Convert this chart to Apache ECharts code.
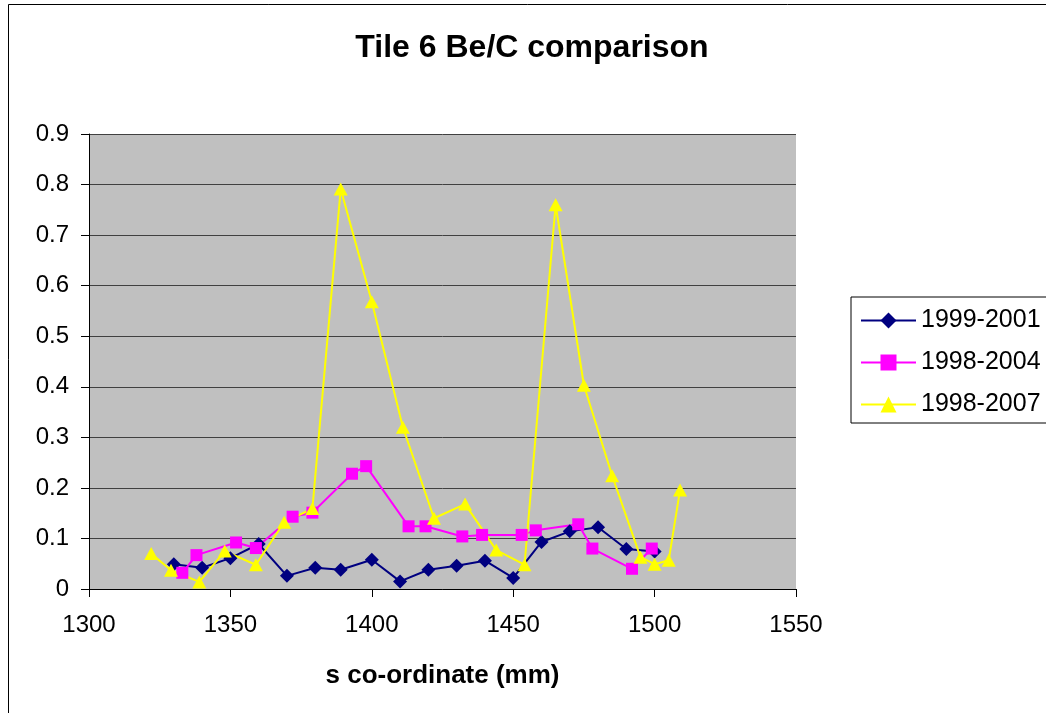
<!DOCTYPE html>
<html>
<head>
<meta charset="utf-8">
<title>Tile 6 Be/C comparison</title>
<script src="https://cdn.jsdelivr.net/npm/echarts@6/dist/echarts.min.js"></script>
<style>
  html, body { margin: 0; padding: 0; background: #fff; }
  #chart { width: 1046px; height: 713px; }
</style>
</head>
<body>
<div id="chart"></div>
<script>
// s co-ordinate (mm) and Be/C ratio, per campaign
const seriesNames = ['1999-2001', '1998-2004', '1998-2007'];

const s1999_2001 = [1330, 1340, 1350, 1360, 1370, 1380, 1389, 1400, 1410, 1420, 1430, 1440, 1450, 1460, 1470, 1480, 1490, 1500];
const be1999_2001 = [0.049, 0.042, 0.061, 0.089, 0.026, 0.042, 0.038, 0.058, 0.015, 0.038, 0.046, 0.056, 0.022, 0.093, 0.114, 0.122, 0.079, 0.074];

const s1998_2004 = [1333, 1338, 1352, 1359, 1372, 1379, 1393, 1398, 1413, 1419, 1432, 1439, 1453, 1458, 1473, 1478, 1492, 1499];
const be1998_2004 = [0.032, 0.067, 0.092, 0.081, 0.143, 0.151, 0.228, 0.243, 0.124, 0.124, 0.104, 0.107, 0.107, 0.116, 0.128, 0.080, 0.040, 0.080];

const s1998_2007 = [1322, 1329, 1339, 1348, 1359, 1369, 1379, 1389, 1400, 1411, 1422, 1433, 1444, 1454, 1465, 1475, 1485, 1495, 1500, 1505, 1509];
const be1998_2007 = [0.070, 0.037, 0.014, 0.075, 0.048, 0.132, 0.159, 0.791, 0.568, 0.320, 0.140, 0.168, 0.077, 0.048, 0.760, 0.403, 0.224, 0.063, 0.049, 0.057, 0.196];

const xTicks = [1300, 1350, 1400, 1450, 1500, 1550];
const yTicks = ['0', '0.1', '0.2', '0.3', '0.4', '0.5', '0.6', '0.7', '0.8', '0.9'];

const pairs = (xs, ys) => xs.map((x, i) => [x, ys[i]]);

const chart = echarts.init(document.getElementById('chart'), null, { renderer: 'canvas' });

const font = 'Liberation Sans, Arial, sans-serif';

function lineSeries(name, data, color, symbol, size) {
  return {
    name: name,
    type: 'line',
    data: data,
    symbol: symbol,
    symbolSize: size,
    showAllSymbol: true,
    lineStyle: { color: color, width: 2 },
    itemStyle: { color: color, borderWidth: 0 },
    emphasis: { disabled: true },
    animation: false
  };
}

chart.setOption({
  backgroundColor: '#fff',
  animation: false,
  title: {
    text: 'Tile 6 Be/C comparison',
    left: 527,
    top: 27,
    textAlign: 'center',
    textStyle: { fontFamily: font, fontSize: 32, fontWeight: 'bold', color: '#000' }
  },
  graphic: [{
    type: 'rect',
    z: -1,
    silent: true,
    shape: { x: 8.5, y: 4.5, width: 1100, height: 800 },
    style: { fill: 'none', stroke: '#000', lineWidth: 1 }
  }],
  grid: {
    left: 89, top: 134, right: 250, bottom: 124,
    show: true,
    backgroundColor: '#c0c0c0',
    borderWidth: 0
  },
  legend: {
    orient: 'vertical',
    left: 851,
    top: 297,
    padding: [11, 12, 6, 9],
    itemWidth: 55,
    itemHeight: 20,
    itemGap: 17,
    backgroundColor: '#fff',
    borderColor: '#000',
    borderWidth: 1,
    borderRadius: 0,
    selectedMode: false,
    textStyle: { fontFamily: font, fontSize: 25, lineHeight: 25, color: '#000' },
    data: seriesNames
  },
  xAxis: {
    type: 'value',
    min: xTicks[0],
    max: xTicks[xTicks.length - 1],
    interval: 50,
    name: 's co-ordinate (mm)',
    nameLocation: 'middle',
    nameGap: 74,
    nameTextStyle: { fontFamily: font, fontSize: 26, fontWeight: 'bold', color: '#000' },
    axisLine: { show: true, lineStyle: { color: '#000', width: 1 } },
    axisTick: { show: true, length: 8, lineStyle: { color: '#000' } },
    axisLabel: {
      fontFamily: font, fontSize: 24, color: '#000', margin: 24,
      formatter: (v) => String(v)
    },
    splitLine: { show: false }
  },
  yAxis: {
    type: 'value',
    min: 0,
    max: 0.9,
    interval: 0.1,
    axisLine: { show: true, lineStyle: { color: '#000', width: 1 } },
    axisTick: { show: true, length: 8, lineStyle: { color: '#000' } },
    axisLabel: {
      fontFamily: font, fontSize: 24, color: '#000', margin: 20,
      formatter: (v) => yTicks[Math.round(v * 10)]
    },
    splitLine: { show: true, lineStyle: { color: '#404040', width: 1 } }
  },
  series: [
    lineSeries(seriesNames[0], pairs(s1999_2001, be1999_2001), '#000080', 'diamond', [14, 14]),
    lineSeries(seriesNames[1], pairs(s1998_2004, be1998_2004), '#ff00ff', 'rect', [12, 12]),
    lineSeries(seriesNames[2], pairs(s1998_2007, be1998_2007), '#ffff00', 'triangle', [14, 13])
  ]
});
</script>
</body>
</html>
